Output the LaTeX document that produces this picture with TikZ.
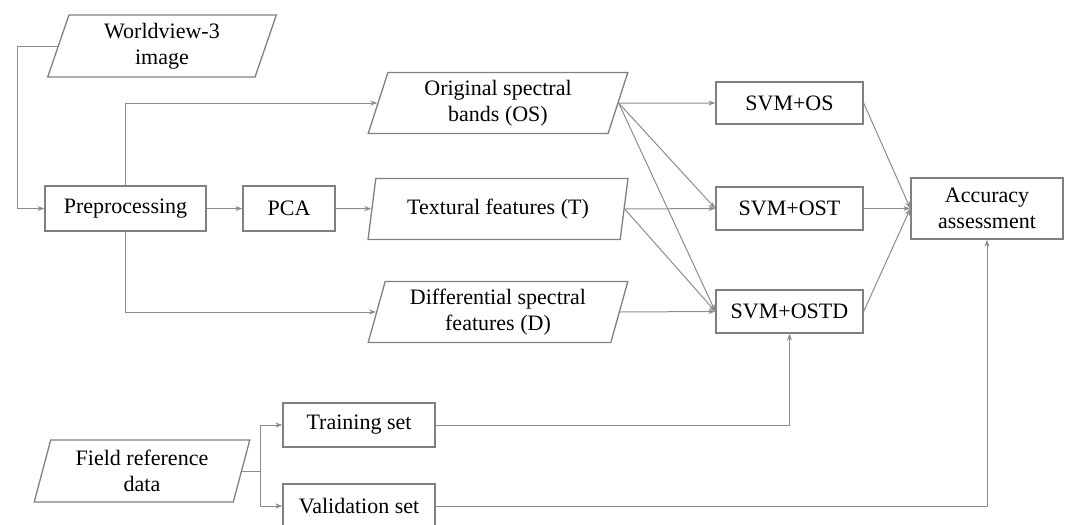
\documentclass[tikz,border=0pt]{standalone}
\usepackage{fontspec}
\setmainfont{Liberation Serif}
\usetikzlibrary{shapes.geometric,arrows.meta,positioning}
\tikzset{
  box/.style={draw=gray,line width=1.3pt,fill=white,align=center,
    font=\fontsize{22}{26}\selectfont,inner sep=0pt},
  data/.style={box,trapezium,trapezium left angle=74,trapezium right angle=106,
    trapezium stretches=true},
  arr/.style={draw=gray!90,line width=1pt,-{Stealth[length=7pt,width=5pt]}},
  link/.style={draw=gray!90,line width=1pt}
}
\begin{document}
\begin{tikzpicture}[x=1pt,y=-1pt]

    \useasboundingbox (0,0) rectangle (1069,525);

    % Eingangsdaten
    \node[data,minimum width=229,minimum height=62] (world) at (162,46) {Worldview-3\\image};
    \node[data,minimum width=216,minimum height=62] (field) at (142,471) {Field reference\\data};

    % Vorverarbeitung
    \node[box,minimum width=161,minimum height=45] (prep) at (125.5,208.5) {Preprocessing};
    \node[box,minimum width=92,minimum height=45] (pca) at (289,208.5) {PCA};

    % Merkmale
    \node[data,minimum width=260,minimum height=61] (os) at (498,103) {Original spectral\\bands (OS)};
    \node[data,minimum width=260,minimum height=61] (tex) at (498,209) {Textural features (T)};
    \node[data,minimum width=260,minimum height=61] (diff) at (498,312) {Differential spectral\\features (D)};

    % Klassifikation
    \node[box,minimum width=147,minimum height=42] (svmos) at (789.5,103) {SVM+OS};
    \node[box,minimum width=147,minimum height=43] (svmost) at (789.5,208.5) {SVM+OST};
    \node[box,minimum width=147,minimum height=43] (svmostd) at (789.5,311.5) {SVM+OSTD};
    \node[box,minimum width=152,minimum height=61] (acc) at (987,208.5) {Accuracy\\assessment};

    % Stichproben
    \node[box,minimum width=152,minimum height=44] (train) at (359,425) {Training set};
    \node[box,minimum width=152,minimum height=44] (valid) at (359,506) {Validation set};

    % Verbindungen
    \draw[arr] (world.west) -- ++(-40,0) |- (prep.west);
    \draw[arr] (prep.north) |- (os.west);
    \draw[arr] (prep.south) |- (diff.west);
    \draw[arr] (prep) -- (pca);
    \draw[arr] (pca) -- (tex);

    \foreach \s in {svmos,svmost,svmostd}
        \draw[arr] (os.east) -- (\s.west);
    \foreach \s in {svmost,svmostd}
        \draw[arr] (tex.east) -- (\s.west);
    \draw[arr] (diff.east) -- (svmostd.west);

    \foreach \s in {svmos,svmost,svmostd}
        \draw[arr] (\s.east) -- (acc.west);

    \draw[link] (field.east) -- ++(18,0) coordinate (split);
    \draw[arr] (split) |- (train.west);
    \draw[arr] (split) |- (valid.west);
    \draw[arr] (train.east) -| (svmostd.south);
    \draw[arr] (valid.east) -| (acc.south);

\end{tikzpicture}
\end{document}
